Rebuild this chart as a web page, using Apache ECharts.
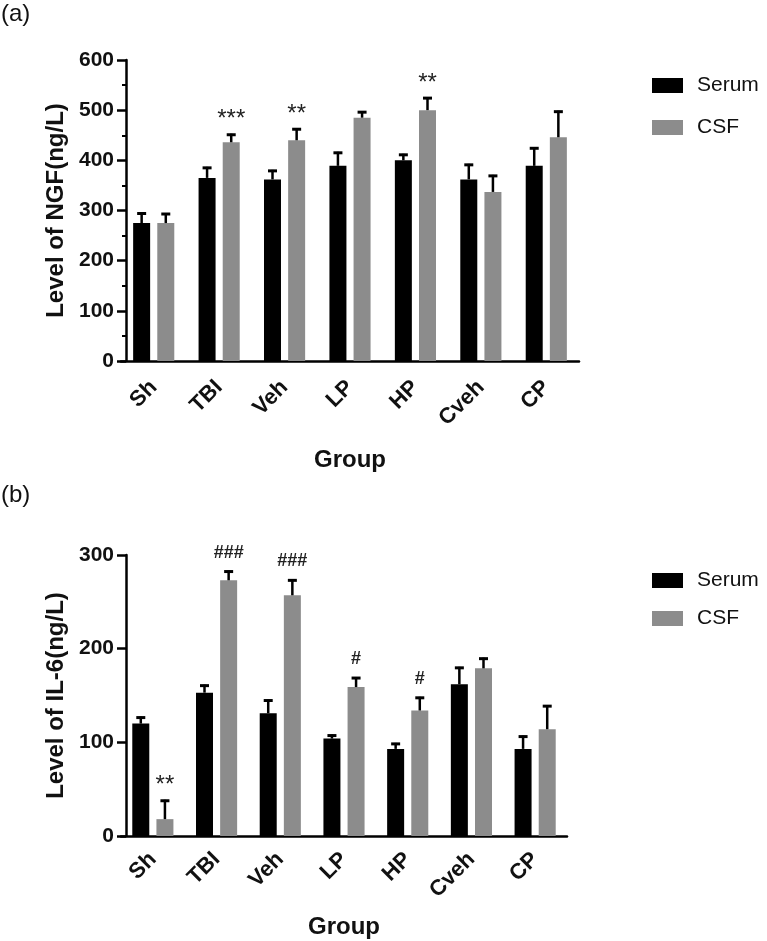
<!DOCTYPE html>
<html>
<head>
<meta charset="utf-8">
<script src="https://cdn.jsdelivr.net/npm/echarts@6/dist/echarts.min.js"></script>
<style>html,body{margin:0;padding:0;background:#fff;}#c{width:767px;height:941px;}</style>
</head>
<body>
<div id="c"></div>
<script>
// ---- data ----
var categories = ['Sh', 'TBI', 'Veh', 'LP', 'HP', 'Cveh', 'CP'];
// (a) NGF
var ngfSerum = [275, 365, 362, 389, 400, 362, 389];
var ngfSerumErr = [21, 22, 19, 28, 13, 31, 37];
var ngfCSF = [275, 436, 440, 485, 500, 337, 446];
var ngfCSFErr = [20, 17, 24, 13, 26, 34, 53];
var ngfCSFMarks = ['', '***', '**', '', '**', '', ''];
var ngfTicks = [0, 100, 200, 300, 400, 500, 600];
// (b) IL-6
var il6Serum = [120, 153, 131, 104, 93, 162, 93];
var il6SerumErr = [7.5, 8.6, 14.7, 4.3, 6.4, 18.6, 14.2];
var il6CSF = [18, 273, 257, 159, 134, 179, 114];
var il6CSFErr = [20.7, 10.4, 17, 10.7, 14.6, 11.4, 25.7];
var il6CSFMarks = ['**', '###', '###', '#', '#', '', ''];
var il6Ticks = [0, 100, 200, 300];

var FONT = '"Liberation Sans", Arial, sans-serif';
var BAR_W = 17, BAR_GAP = 0.42;
var BLACK = '#000000', GREY = '#8c8c8c';

function errSeries(name, xi, vals, errs, marks, side) {
  var data = vals.map(function (v, i) { return [i, v, errs[i]]; });
  return {
    type: 'custom', name: name + ' err', xAxisIndex: xi, yAxisIndex: xi, z: 5,
    silent: true, legendHoverLink: false,
    data: data,
    encode: { x: 0, y: 1 },
    renderItem: function (params, api) {
      var ci = api.value(0), v = api.value(1), e = api.value(2);
      var mark = marks ? marks[params.dataIndex] : '';
      var dx = side * BAR_W * (1 + BAR_GAP) / 2;
      var p0 = api.coord([ci, v]);
      var p1 = api.coord([ci, v + e]);
      var x = p0[0] + dx;
      var ch = [
        { type: 'line', shape: { x1: x, y1: p0[1], x2: x, y2: p1[1] }, style: { stroke: '#000', lineWidth: 2.5 } },
        { type: 'line', shape: { x1: x - 4.5, y1: p1[1] + 1, x2: x + 4.5, y2: p1[1] + 1 }, style: { stroke: '#000', lineWidth: 3 } }
      ];
      if (mark) {
        var isStar = mark.indexOf('*') >= 0;
        ch.push({ type: 'text', style: { text: mark, x: x, y: p1[1] - (isStar ? 14 : 18), align: 'center', verticalAlign: 'middle',
          font: (isStar ? '24px ' : 'bold 18px ') + FONT, fill: '#222' } });
      }
      return { type: 'group', children: ch };
    }
  };
}

function barSeries(name, xi, vals, color) {
  return {
    type: 'bar', name: name, xAxisIndex: xi, yAxisIndex: xi,
    data: vals, barWidth: BAR_W, barGap: (BAR_GAP * 100) + '%',
    itemStyle: { color: color },
    z: 2
  };
}

function xAxisCfg(gi, gap, margin) {
  return {
    type: 'category', gridIndex: gi, data: categories,
    axisLine: { lineStyle: { color: '#000', width: 2.5 } },
    axisTick: { alignWithLabel: true, length: 8, lineStyle: { color: '#000', width: 2.5 } },
    axisLabel: { rotate: 45, margin: margin, color: '#111', fontFamily: FONT, fontWeight: 'bold', fontSize: 22 },
    name: 'Group', nameLocation: 'middle', nameGap: gap,
    nameTextStyle: { color: '#111', fontFamily: FONT, fontWeight: 'bold', fontSize: 24 },
    splitLine: { show: false }
  };
}

function yAxisCfg(gi, ticks, title, gap, minor) {
  return {
    type: 'value', gridIndex: gi, min: ticks[0], max: ticks[ticks.length - 1], interval: ticks[1] - ticks[0],
    offset: -5,
    axisLine: { show: true, lineStyle: { color: '#000', width: 2.5 } },
    axisTick: { show: true, length: 9, lineStyle: { color: '#000', width: 2.5 } },
    minorTick: { show: minor, splitNumber: 2, length: 4, lineStyle: { color: '#000', width: 2 } },
    axisLabel: { margin: 12, color: '#111', fontFamily: FONT, fontWeight: 'bold', fontSize: 21 },
    splitLine: { show: false },
    name: title, nameLocation: 'middle', nameGap: gap, nameRotate: 90,
    nameTextStyle: { color: '#111', fontFamily: FONT, fontWeight: 'bold', fontSize: 24 }
  };
}

function legendCfg(top, gap, xi) {
  return {
    orient: 'vertical', left: 647, top: top, itemWidth: 31, itemHeight: 15, itemGap: gap,
    icon: 'rect', selectedMode: false,
    data: [{ name: xi === 0 ? 'Serum' : 'Serum ' }, { name: xi === 0 ? 'CSF' : 'CSF ' }],
    formatter: function (n) { return n.trim(); },
    textStyle: { color: '#111', fontFamily: FONT, fontSize: 21, lineHeight: 21, padding: [0, 0, 0, 9] }
  };
}

var chart = echarts.init(document.getElementById('c'), null, { renderer: 'canvas' });
chart.setOption({
  animation: false,
  backgroundColor: '#fff',
  grid: [
    { left: 121, top: 60, width: 458, height: 301 },
    { left: 121, top: 555, width: 446, height: 281 }
  ],
  legend: [legendCfg(70, 21, 0), legendCfg(565, 17, 1)],
  xAxis: [xAxisCfg(0, 87, 23), xAxisCfg(1, 79, 20)],
  yAxis: [yAxisCfg(0, ngfTicks, 'Level of NGF(ng/L)', 57, true), yAxisCfg(1, il6Ticks, 'Level of IL-6(ng/L)', 53, false)],
  graphic: [
    { type: 'text', left: 1, top: 2, style: { text: '(a)', font: '24px ' + FONT, fill: '#111' } },
    { type: 'text', left: 1, top: 483, style: { text: '(b)', font: '24px ' + FONT, fill: '#111' } }
  ],
  series: [
    barSeries('Serum', 0, ngfSerum, BLACK),
    barSeries('CSF', 0, ngfCSF, GREY),
    errSeries('Serum', 0, ngfSerum, ngfSerumErr, null, -1),
    errSeries('CSF', 0, ngfCSF, ngfCSFErr, ngfCSFMarks, 1),
    barSeries('Serum ', 1, il6Serum, BLACK),
    barSeries('CSF ', 1, il6CSF, GREY),
    errSeries('Serum ', 1, il6Serum, il6SerumErr, null, -1),
    errSeries('CSF ', 1, il6CSF, il6CSFErr, il6CSFMarks, 1)
  ]
});
</script>
</body>
</html>
